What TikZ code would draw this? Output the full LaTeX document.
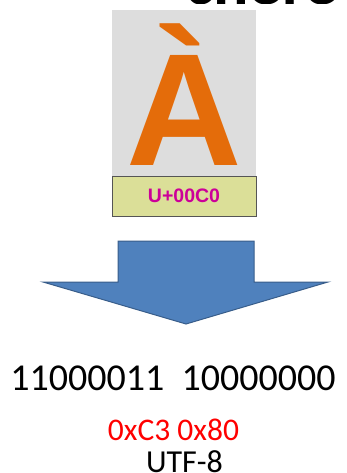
\documentclass[tikz,border=0pt]{standalone}
\usepackage{fontspec}
\setmainfont{Carlito}
\newfontfamily\arialbold{Liberation Sans Bold}
\newfontfamily\calibribold{Carlito Bold}
\definecolor{glyphbg}{HTML}{DDDDDD}
\definecolor{glyphorange}{HTML}{E46C0A}
\definecolor{codebg}{HTML}{DBDF98}
\definecolor{codeborder}{HTML}{555555}
\definecolor{codemagenta}{HTML}{CC0099}
\definecolor{arrowfill}{HTML}{4F81BD}
\definecolor{arrowedge}{HTML}{385D8A}
\definecolor{hexred}{HTML}{FF0000}
\begin{document}
\begin{tikzpicture}[x=1pt,y=-1pt,
  glyphbox/.style={fill=glyphbg,inner sep=0pt,minimum width=144pt,minimum height=166pt},
  codebox/.style={fill=codebg,draw=codeborder,line width=0.9pt,inner sep=0pt,
    minimum width=144pt,minimum height=40pt,text=codemagenta,
    font=\arialbold\fontsize{19.5}{20}\selectfont},
  bigarrow/.style={fill=arrowfill,draw=arrowedge,line width=1pt,line join=miter},
  plain/.style={inner sep=0pt,anchor=base,text depth=0pt}]
\useasboundingbox (0,0) rectangle (347,473);

% title line, cut by the top edge
\begin{scope}
  \clip (0,0) rectangle (347,4);
  \node[plain,font=\calibribold\fontsize{66}{66}\selectfont] (title) at (262,4.5) {chère};
\end{scope}

% glyph panel with its code point
\node[glyphbox] (panel) at (184,93) {};
\node[plain,text=glyphorange,font=\arialbold\fontsize{160}{160}\selectfont] (glyph) at (184,165) {À};
\node[codebox] (code) at (184,196) {U+00C0};

% block arrow pointing down
\draw[bigarrow] (118,241) -- (254,241) -- (254,282) -- (328,282)
  -- (186,324) -- (43,282) -- (118,282) -- cycle;

% encoded bytes
\node[plain,font=\fontsize{38}{38}\selectfont] (bits) at (173,390) {11000011\hspace{0.45em}10000000};
\node[plain,text=hexred,font=\fontsize{31.5}{32}\selectfont] (hex) at (173.5,440) {0xC3 0x80};
\node[plain,font=\fontsize{32}{32}\selectfont] (enc) at (184.5,472) {UTF-8};
\end{tikzpicture}
\end{document}
